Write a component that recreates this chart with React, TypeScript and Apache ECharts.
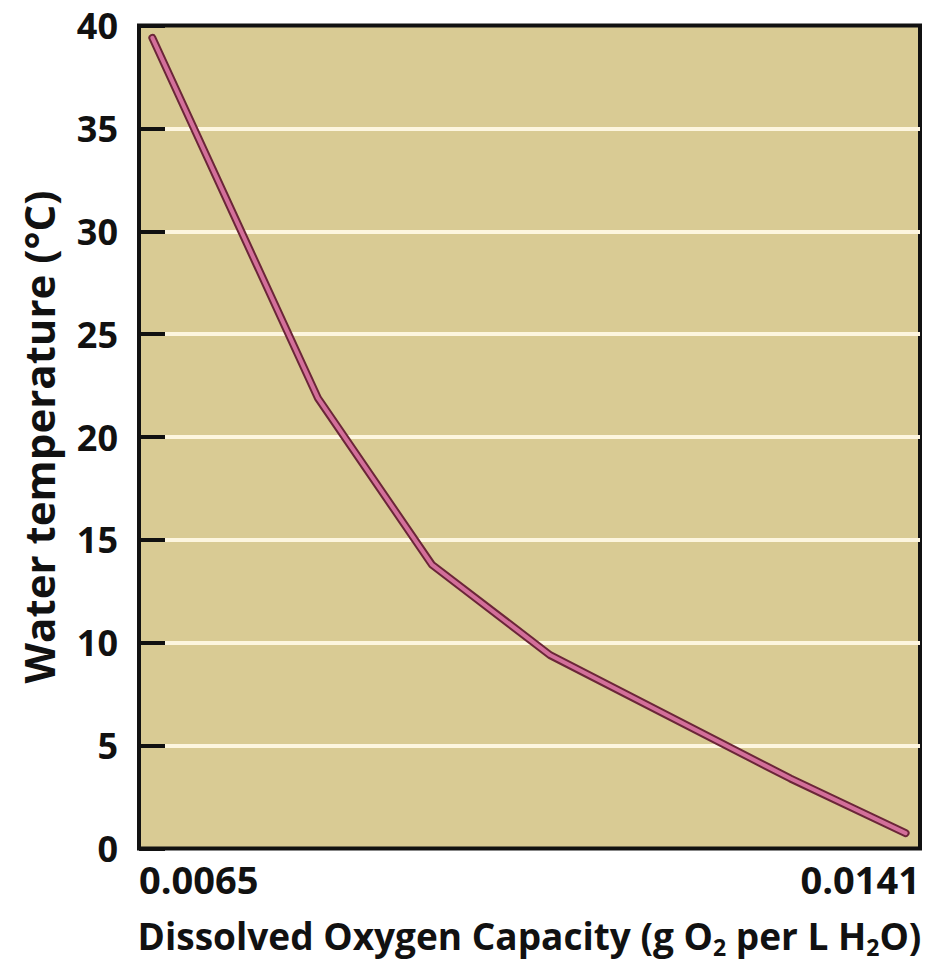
import React, { useEffect, useRef } from "react";
import * as echarts from "echarts";

// Dissolved oxygen capacity (g O2 per L H2O) vs water temperature (°C)
const oxygenValues = [0.00663, 0.00824, 0.00935, 0.0105, 0.01284, 0.01396];
const temperatureValues = [39.4, 21.9, 13.8, 9.4, 3.4, 0.75];
const xTickLabels = ["0.0065", "0.0141"];
const yMin = 0;
const yMax = 40;
const yInterval = 5;

const FONT = "'Open Sans', 'Noto Sans', sans-serif";

export default function App() {
  const ref = useRef<HTMLDivElement>(null);

  useEffect(() => {
    if (!ref.current) return;
    const chart = echarts.init(ref.current, undefined, { renderer: "svg" });
    const data = oxygenValues.map((x, i) => [x, temperatureValues[i]]);
    const xMin = Number(xTickLabels[0]);
    const xMax = Number(xTickLabels[xTickLabels.length - 1]);

    chart.setOption({
      animation: false,
      backgroundColor: "#ffffff",
      grid: {
        left: 139,
        right: 11,
        top: 25.5,
        bottom: 121.5,
        show: true,
        backgroundColor: "#d9cb94",
        borderColor: "#111111",
        borderWidth: 4,
      },
      xAxis: {
        type: "value",
        min: xMin,
        max: xMax,
        axisLine: { show: false },
        axisTick: { show: false },
        splitLine: { show: false },
        axisLabel: {
          show: true,
          showMinLabel: true,
          showMaxLabel: true,
          alignMinLabel: "left",
          alignMaxLabel: "right",
          margin: 11,
          fontFamily: FONT,
          fontWeight: "bold",
          fontSize: 38,
          color: "#111111",
          formatter: (v: number) => {
            const m = xTickLabels.find((l) => Math.abs(Number(l) - v) < 1e-9);
            return m ?? "";
          },
        },
        name: "Dissolved Oxygen Capacity (g O{sub|2} per L H{sub|2}O)",
        nameLocation: "middle",
        nameGap: 66,
        nameTextStyle: {
          fontFamily: FONT,
          fontWeight: "bold",
          fontSize: 37,
          color: "#111111",
          lineHeight: 42,
          rich: {
            sub: {
              fontFamily: FONT,
              fontWeight: "bold",
              fontSize: 23,
              color: "#111111",
              padding: [22, 0, 0, 0],
            },
          },
        },
      },
      yAxis: {
        type: "value",
        min: yMin,
        max: yMax,
        interval: yInterval,
        axisLine: { show: false },
        axisTick: {
          show: true,
          inside: true,
          length: 26,
          lineStyle: { color: "#111111", width: 4 },
        },
        splitLine: {
          show: true,
          showMinLine: false,
          showMaxLine: false,
          lineStyle: { color: "#fdf6df", width: 4 },
        },
        axisLabel: {
          margin: 21,
          fontFamily: FONT,
          fontWeight: "bold",
          fontSize: 36,
          color: "#111111",
        },
        name: "Water temperature (°C)",
        nameLocation: "middle",
        nameGap: 80,
        nameTextStyle: {
          fontFamily: FONT,
          fontWeight: "bold",
          fontSize: 42,
          color: "#111111",
        },
      },
      series: [
        {
          type: "line",
          data,
          showSymbol: false,
          symbol: "none",
          z: 3,
          lineStyle: { color: "#6b2638", width: 8, cap: "round", join: "round" },
        },
        {
          type: "line",
          data,
          showSymbol: false,
          symbol: "none",
          z: 4,
          lineStyle: { color: "#d36f9a", width: 4, cap: "round", join: "round" },
        },
      ],
    });
    return () => chart.dispose();
  }, []);

  return (
    <div
      ref={ref}
      style={{ position: "absolute", left: 0, top: 0, width: 931, height: 970 }}
    />
  );
}
